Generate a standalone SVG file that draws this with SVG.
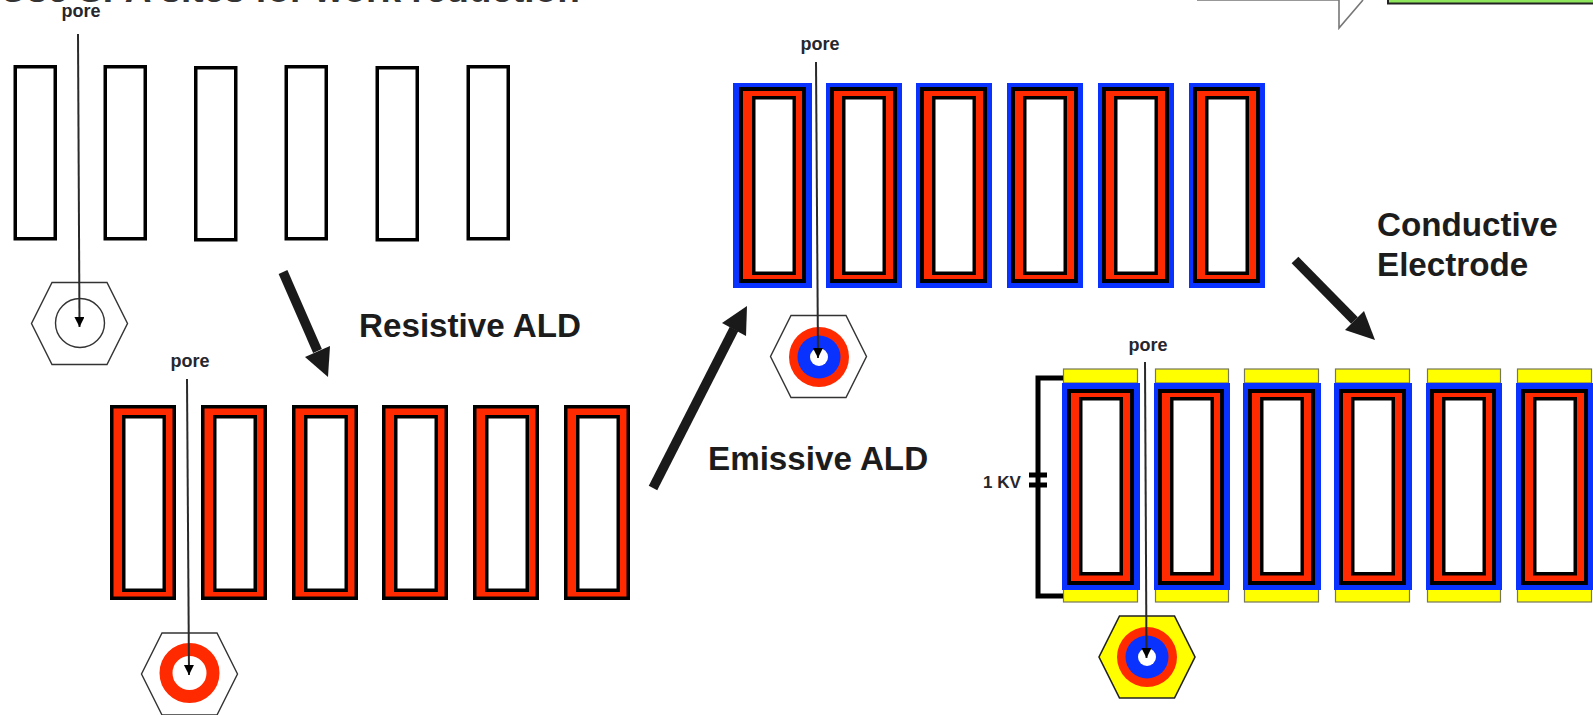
<svg xmlns="http://www.w3.org/2000/svg" width="1593" height="715" viewBox="0 0 1593 715">
<style>
text{font-family:"Liberation Sans",Arial,sans-serif;font-weight:bold;fill:#1c1c1c}
.lab{font-size:33.2px}
.sm{font-size:18px;fill:#26262e}
.kv{font-size:17px;fill:#26262e}
.k{stroke:#000;stroke-width:3.5}
.hex{fill:#fff;stroke:#333;stroke-width:1.4}
.y{fill:#ff0;stroke:#77775a;stroke-width:1.2}
.pl{fill:none;stroke:#2a2a2a;stroke-width:2;marker-end:url(#tri)}
.sh{fill:none;stroke:#1a1a1a;stroke-width:9.5}
.big{fill:#1a1a1a;stroke:none}
</style>
<defs>
<marker id="tri" markerUnits="userSpaceOnUse" markerWidth="11" markerHeight="11" refX="10" refY="5" orient="auto"><path d="M0 0L10 5L0 10Z" fill="#000"/></marker>
<g id="cellA"><rect class="k" x="1.75" y="1.75" width="40" height="172" fill="#fff"/></g>
<g id="cellB"><rect class="k" x="1.75" y="1.75" width="62.5" height="191.5" fill="#ff2a00"/><rect class="k" x="13.75" y="11.75" width="40.5" height="173.5" fill="#fff"/></g>
<g id="cellC"><rect x="0" y="0" width="79" height="205" fill="#0a32ff"/><rect x="8" y="6" width="63" height="192" fill="#ff2a00" stroke="#000" stroke-width="4"/><rect class="k" x="20.75" y="14.75" width="40.5" height="175.5" fill="#fff"/></g>
<g id="cellC2"><rect x="0" y="0" width="76" height="205" fill="#0a32ff"/><rect x="6" y="6" width="63" height="192" fill="#ff2a00" stroke="#000" stroke-width="4"/><rect class="k" x="17.75" y="14.75" width="40.5" height="175.5" fill="#fff"/></g>
<g id="cellD"><rect class="y" x="1.5" y="-14" width="74" height="14"/><rect class="y" x="1.5" y="205" width="74" height="14"/><rect x="0" y="0" width="78" height="207" fill="#0a32ff"/><rect x="7" y="8" width="63" height="192" fill="#ff2a00" stroke="#000" stroke-width="4"/><rect class="k" x="18.75" y="15.75" width="40.5" height="175" fill="#fff"/></g>
<g id="cellD2"><rect class="y" x="1.5" y="-14" width="73" height="14"/><rect class="y" x="1.5" y="205" width="73" height="14"/><rect x="0" y="0" width="76" height="207" fill="#0a32ff"/><rect x="6" y="8" width="62" height="192" fill="#ff2a00" stroke="#000" stroke-width="4"/><rect class="k" x="17.75" y="15.75" width="40.5" height="175" fill="#fff"/></g>
<path id="hexa" d="M-27.5 -41L27.5 -41L48 0L27.5 41L-27.5 41L-48 0Z"/>
</defs>
<rect width="1593" height="715" fill="#fff"/>
<g id="title"><text x="0" y="1.5" style="font-size:37px;fill:#333">Use SPA sites for work reduction</text></g>
<g id="callout"><path d="M1197 0H1339V28L1363 0" fill="#fff" stroke="#777" stroke-width="1.6"/></g>
<g id="green-box"><rect x="1388" y="-10" width="210" height="13.5" fill="#8ee65c" stroke="#222" stroke-width="2"/></g>

<g id="stage1">
<use href="#cellA" x="13.5" y="65"/><use href="#cellA" x="103.5" y="65"/><use href="#cellA" x="194" y="66"/><use href="#cellA" x="284.5" y="65"/><use href="#cellA" x="375.5" y="66"/><use href="#cellA" x="466.5" y="65"/>
<g id="hex1"><use href="#hexa" x="79.5" y="323.5" class="hex"/><circle cx="80" cy="323" r="24.5" fill="#fff" stroke="#333" stroke-width="1.4"/></g>
<text class="sm" x="81" y="17" text-anchor="middle">pore</text>
</g>

<g id="stage2">
<use href="#cellB" x="110" y="405"/><use href="#cellB" x="201" y="405"/><use href="#cellB" x="292" y="405"/><use href="#cellB" x="382" y="405"/><use href="#cellB" x="473" y="405"/><use href="#cellB" x="564" y="405"/>
<g id="hex2"><use href="#hexa" x="189.5" y="674" class="hex"/><circle cx="189.5" cy="673" r="23.5" fill="#fff" stroke="#ff2a00" stroke-width="13"/></g>
<text class="sm" x="190" y="367" text-anchor="middle">pore</text>
</g>

<g id="stage3">
<use href="#cellC" x="733" y="83"/><use href="#cellC2" x="826" y="83"/><use href="#cellC2" x="916" y="83"/><use href="#cellC2" x="1007" y="83"/><use href="#cellC2" x="1098" y="83"/><use href="#cellC2" x="1189" y="83"/>
<g id="hex3"><use href="#hexa" x="818.5" y="356.5" class="hex"/><circle cx="819" cy="357" r="30" fill="#ff2a00"/><circle cx="819" cy="357" r="21.5" fill="#0a32ff"/><circle cx="819" cy="357" r="9" fill="#fff"/></g>
<text class="sm" x="820" y="50" text-anchor="middle">pore</text>
</g>

<g id="stage4">
<use href="#cellD" x="1062" y="383"/><use href="#cellD2" x="1154" y="383"/><use href="#cellD" x="1243" y="383"/><use href="#cellD" x="1334" y="383"/><use href="#cellD2" x="1426" y="383"/><use href="#cellD" x="1516" y="383"/>
<g id="hex4"><use href="#hexa" x="1147" y="657" fill="#ff0" stroke="#222" stroke-width="1.6"/><circle cx="1147" cy="657" r="30" fill="#ff2a00"/><circle cx="1147" cy="657" r="21.5" fill="#0a32ff"/><circle cx="1147" cy="657" r="9" fill="#fff"/></g>
<text class="sm" x="1148" y="351" text-anchor="middle">pore</text>
</g>

<g id="supply">
<path d="M1063 378H1038V596H1063" fill="none" stroke="#000" stroke-width="5"/>
<path d="M1029 475H1047M1029 485H1047" stroke="#000" stroke-width="5"/>
<text class="kv" x="983" y="488">1 KV</text>
</g>

<g id="connectors">
<path class="pl" d="M78 34L79.5 327"/>
<path class="pl" d="M187 379L189 675"/>
<path class="pl" d="M816 62L818 358"/>
<path class="pl" d="M1145 362L1146.5 658"/>
<g id="arrow-resistive"><path class="sh" d="M283 272L317.5 351"/><path class="big" d="M305 357L330 346L328 377Z"/></g>
<g id="arrow-emissive"><path class="sh" d="M653 488L734 329"/><path class="big" d="M722 323L746 336L747 306Z"/></g>
<g id="arrow-conductive"><path class="sh" d="M1295 260L1354.5 320.5"/><path class="big" d="M1345 330L1364 311L1375 340Z"/></g>
</g>

<g id="labels">
<text class="lab" x="359" y="337">Resistive ALD</text>
<text class="lab" x="708" y="470">Emissive ALD</text>
<text class="lab" x="1377" y="236">Conductive</text>
<text class="lab" x="1377" y="276">Electrode</text>
</g>
</svg>
